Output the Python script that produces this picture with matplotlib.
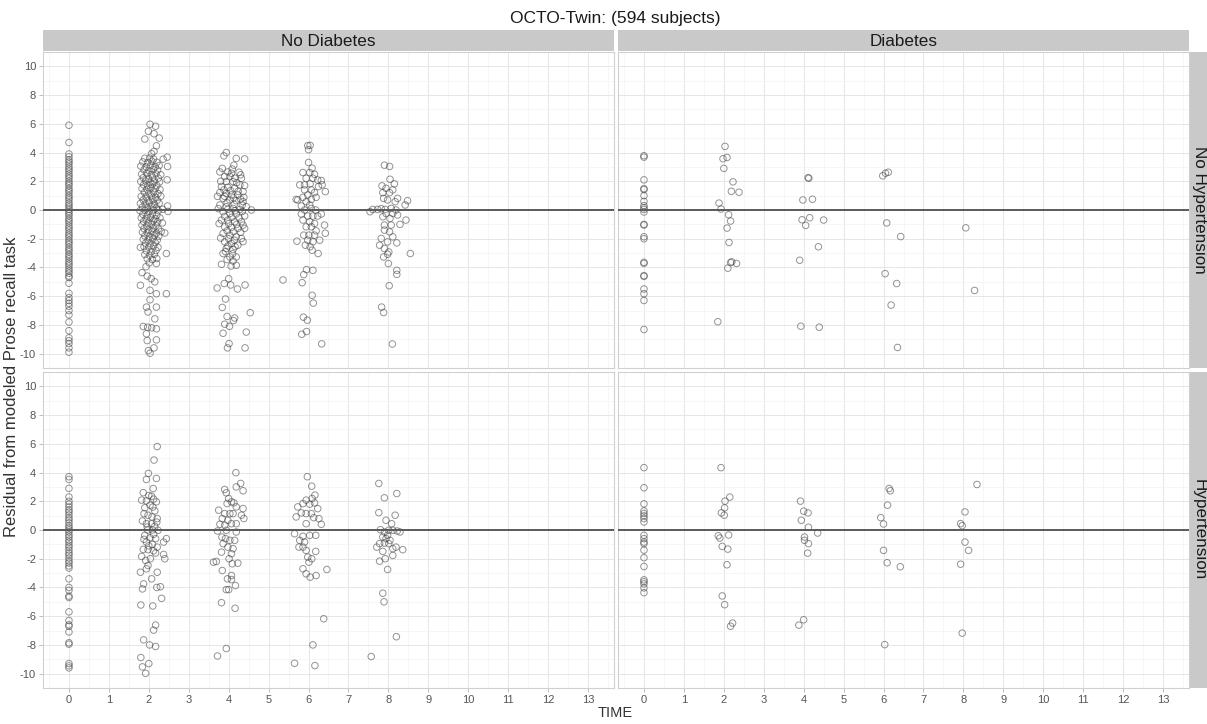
import matplotlib
matplotlib.use("Agg")
import matplotlib.pyplot as plt
import numpy as np

plt.rcParams['font.family'] = ['Liberation Sans', 'DejaVu Sans']
plt.rcParams['axes.unicode_minus'] = False

# ---- data: residuals at TIME 0 (no jitter) and jittered points at later times ----
col_labels = ["No Diabetes", "Diabetes"]
row_labels = ["No Hypertension", "Hypertension"]
time_ticks = list(range(0, 14))
resid_ticks = [-10, -8, -6, -4, -2, 0, 2, 4, 6, 8, 10]

# No Diabetes / No Hypertension
nd_nh_t0 = [5.9, 4.7, 3.9, 3.7, 3.5, 3.35, 3.2, 3.0, 2.85, 2.7, 2.5, 2.35, 2.2, 2.0, 1.85,
            1.7, 1.5, 1.35, 1.2, 1.0, 0.85, 0.7, 0.5, 0.35, 0.2, 0.05, -0.1, -0.25, -0.4,
            -0.6, -0.75, -0.9, -1.1, -1.25, -1.4, -1.6, -1.75, -1.9, -2.1, -2.25, -2.4,
            -2.6, -2.75, -2.9, -3.1, -3.25, -3.4, -3.6, -3.75, -3.9, -4.1, -4.25, -4.4,
            -4.6, -4.7, -5.1, -5.8, -6.1, -6.3, -6.5, -6.7, -7.0, -7.3, -7.8, -8.4, -8.9,
            -9.1, -9.3, -9.6, -9.9]
nd_nh_pts = [
    # time 2
    (2.03, 5.97), (2.17, 5.83), (1.99, 5.48), (2.13, 5.31), (2.26, 5.01), (1.90, 4.94),
    (2.19, 4.47), (2.13, 4.08), (2.07, 3.92), (2.46, 3.68), (2.36, 3.54), (2.47, 3.03),
    (2.46, 2.10), (2.47, 0.28), (2.48, -0.10), (2.40, -1.60), (2.44, -3.03), (1.79, -2.60),
    (1.90, 3.6), (2.02, 3.62), (2.12, 3.55), (1.85, 3.35), (1.97, 3.3), (2.08, 3.38),
    (2.20, 3.32), (1.80, 3.05), (1.93, 3.0), (2.04, 3.08), (2.16, 3.02), (2.26, 3.1),
    (1.88, 2.8), (2.0, 2.75), (2.11, 2.82), (2.22, 2.78), (1.82, 2.5), (1.95, 2.55),
    (2.06, 2.48), (2.18, 2.52), (2.30, 2.45), (1.86, 2.25), (1.99, 2.2), (2.1, 2.28),
    (2.24, 2.22), (1.80, 1.98), (1.92, 2.02), (2.03, 1.95), (2.14, 2.0), (2.27, 1.96),
    (1.87, 1.75), (1.98, 1.72), (2.09, 1.78), (2.20, 1.7), (1.83, 1.5), (1.95, 1.45),
    (2.05, 1.52), (2.16, 1.48), (2.28, 1.42), (1.89, 1.22), (2.0, 1.18), (2.12, 1.25),
    (2.23, 1.15), (1.81, 0.95), (1.93, 0.92), (2.06, 0.98), (2.17, 0.9), (2.3, 0.96),
    (1.86, 0.7), (1.98, 0.66), (2.1, 0.72), (2.21, 0.68), (1.79, 0.45), (1.91, 0.42),
    (2.02, 0.48), (2.14, 0.4), (2.26, 0.46), (1.84, 0.2), (1.96, 0.16), (2.08, 0.22),
    (2.19, 0.15), (1.78, -0.05), (1.9, -0.02), (2.01, -0.08), (2.12, 0.0), (2.24, -0.04),
    (2.35, 0.05), (1.85, -0.3), (1.97, -0.32), (2.09, -0.28), (2.2, -0.35), (1.81, -0.55),
    (1.93, -0.58), (2.04, -0.52), (2.16, -0.6), (2.28, -0.55), (1.87, -0.8), (1.99, -0.84),
    (2.11, -0.78), (2.22, -0.82), (2.34, -0.9), (1.83, -1.05), (1.95, -1.1), (2.06, -1.02),
    (2.18, -1.08), (1.88, -1.3), (2.0, -1.35), (2.12, -1.28), (2.24, -1.32), (1.84, -1.55),
    (1.96, -1.58), (2.08, -1.52), (2.19, -1.6), (2.31, -1.5), (1.9, -1.8), (2.02, -1.84),
    (2.14, -1.78), (2.25, -1.82), (1.86, -2.05), (1.98, -2.08), (2.1, -2.02), (2.21, -2.1),
    (1.92, -2.3), (2.04, -2.35), (2.16, -2.28), (1.88, -2.55), (2.0, -2.58), (2.12, -2.52),
    (2.23, -2.6), (1.94, -2.85), (2.06, -2.9), (2.18, -2.82), (1.9, -3.1), (2.02, -3.15),
    (2.14, -3.08), (1.96, -3.4), (2.09, -3.45), (2.2, -3.38), (2.19, -3.73), (2.01, -3.68),
    (1.93, -3.95), (1.83, -4.36), (1.96, -4.6), (2.06, -4.78), (1.79, -5.24), (2.15, -5.0),
    (2.03, -5.59), (2.19, -5.83), (2.44, -5.83), (2.03, -6.25), (1.94, -6.76), (2.19, -6.76),
    (1.98, -7.1), (2.15, -7.58), (1.86, -8.11), (1.97, -8.16), (2.07, -8.2), (2.19, -8.27),
    (1.94, -8.62), (2.19, -9.04), (1.96, -9.09), (2.13, -9.6), (1.99, -9.79), (2.03, -9.97),
    # time 4
    (3.94, 4.0), (3.88, 3.77), (4.19, 3.59), (4.4, 3.56), (4.13, 3.12), (3.78, 2.65),
    (3.98, 2.65), (4.07, 2.56), (4.26, 2.63), (3.9, 2.33), (4.03, 2.33), (4.15, 2.21),
    (4.32, 2.21), (3.94, 1.98), (4.11, 1.98), (4.28, 1.75), (3.82, 1.63), (3.98, 1.58),
    (4.15, 1.51), (4.36, 1.28), (3.78, 1.21), (3.94, 1.16), (4.07, 1.05), (4.23, 1.05),
    (4.38, 0.88), (3.86, 0.81), (4.03, 0.7), (4.19, 0.65), (4.36, 0.58), (3.78, 0.35),
    (3.94, 0.23), (4.11, 0.11), (4.28, 0.04), (4.44, 0.23), (4.57, 0.0), (3.86, -0.12),
    (4.03, -0.24), (4.19, -0.28), (4.4, -0.42), (3.82, -0.7), (3.98, -0.7), (4.15, -0.82),
    (4.32, -0.82), (3.9, -1.17), (4.07, -1.21), (4.23, -1.28), (4.4, -1.28), (3.86, -1.63),
    (4.03, -1.75), (4.19, -1.87), (4.32, -1.98), (3.9, -2.22), (4.07, -2.33), (4.23, -2.45),
    (3.94, -2.68), (4.11, -2.75), (3.86, -3.03), (4.03, -3.27), (4.19, -3.27), (4.11, -3.55),
    (3.82, -3.78), (4.19, -3.85), (3.84, 2.9), (4.09, 2.85), (4.3, 2.45), (3.8, 2.0),
    (4.2, 1.9), (4.4, 1.7), (3.88, 1.4), (4.05, 1.35), (4.24, 1.3), (3.72, 0.95),
    (3.9, 0.95), (4.12, 0.85), (4.3, 0.75), (3.96, 0.5), (4.14, 0.4), (4.34, 0.35),
    (3.74, 0.1), (3.98, 0.05), (4.16, -0.05), (4.34, -0.1), (3.9, -0.45), (4.08, -0.5),
    (4.26, -0.55), (3.76, -0.95), (4.0, -0.95), (4.2, -1.0), (4.36, -1.05), (3.96, -1.45),
    (4.12, -1.5), (4.3, -1.55), (3.8, -1.95), (4.0, -2.0), (4.14, -2.1), (4.36, -2.2),
    (3.98, -2.5), (4.16, -2.55), (3.92, -2.9), (4.1, -3.05), (3.96, -3.45), (4.06, -3.9),
    (4.0, -4.78), (3.89, -5.12), (3.71, -5.43), (4.05, -5.22), (4.22, -5.5), (4.41, -5.22),
    (3.92, -6.2), (3.84, -6.78), (4.54, -7.15), (3.96, -7.41), (4.15, -7.52), (4.12, -7.7),
    (3.9, -7.95), (4.02, -8.1), (3.86, -8.58), (4.44, -8.5), (4.01, -9.3), (3.97, -9.6),
    (4.41, -9.6),
    # time 6
    (5.98, 4.48), (6.04, 4.5), (6.0, 4.2), (6.0, 3.31), (6.09, 2.91), (5.86, 2.61),
    (6.03, 2.61), (6.15, 2.49), (6.11, 2.21), (5.94, 2.21), (5.78, 1.75), (5.9, 1.75),
    (6.04, 1.82), (6.23, 2.09), (6.32, 2.05), (6.34, 1.75), (6.25, 1.63), (6.42, 1.28),
    (5.9, 1.4), (6.07, 1.4), (6.15, 1.21), (5.98, 1.05), (5.86, 0.88), (5.69, 0.74),
    (5.73, 0.7), (6.07, 0.74), (6.19, 0.88), (5.94, 0.58), (5.82, 0.28), (6.03, 0.35),
    (5.9, 0.0), (6.07, 0.11), (6.18, 0.0), (6.32, -0.28), (5.82, -0.28), (5.98, -0.42),
    (6.11, -0.42), (6.23, -0.42), (5.86, -0.7), (6.03, -0.82), (6.15, -0.94), (5.94, -1.17),
    (6.07, -1.17), (6.19, -1.45), (5.88, -1.75), (6.01, -1.75), (6.15, -1.75), (6.4, -1.05),
    (5.98, -2.1), (6.11, -2.21), (6.28, -2.1), (6.04, -2.56), (5.92, -2.45), (6.09, -2.8),
    (5.36, -4.87), (6.42, -1.62), (6.24, -3.03), (5.71, -2.17), (5.95, -4.15), (6.11, -4.2),
    (5.88, -4.5), (5.84, -5.06), (6.09, -5.94), (6.12, -6.48), (5.87, -7.46), (5.97, -7.67),
    (5.95, -8.46), (5.83, -8.65), (6.33, -9.32),
    # time 8
    (7.9, 3.12), (8.03, 3.03), (8.04, 2.14), (8.15, 1.82), (7.84, 1.68), (7.94, 1.51),
    (8.11, 1.4), (7.86, 1.21), (8.03, 1.21), (8.23, 0.81), (8.48, 0.65), (7.88, 0.81),
    (7.98, 0.7), (8.17, 0.58), (8.42, 0.35), (7.61, 0.04), (7.73, 0.04), (7.82, 0.09),
    (7.92, 0.04), (8.07, 0.11), (8.19, 0.0), (7.54, -0.12), (7.94, -0.24), (8.11, -0.24),
    (8.23, -0.35), (7.86, -0.47), (8.04, -0.59), (8.44, -0.7), (7.9, -1.05), (8.07, -1.05),
    (8.29, -1.0), (7.9, -1.4), (8.03, -1.52), (8.11, -1.87), (7.82, -1.98), (7.98, -2.22),
    (8.21, -2.29), (7.78, -2.45), (7.9, -2.68), (8.01, -2.92), (7.88, -3.27), (7.98, -3.08),
    (8.55, -3.03), (8.0, -3.73), (8.21, -4.2), (8.21, -4.48), (8.02, -5.27), (7.83, -6.76),
    (7.88, -7.14), (8.1, -9.33),
]

# Diabetes / No Hypertension
d_nh_t0 = [3.78, 3.68, 2.1, 1.49, 1.42, 1.0, 0.6, 0.3, 0.16, 0.04, -0.14, -1.0, -1.05,
           -1.86, -2.0, -3.64, -3.72, -4.57, -4.62, -5.5, -5.83, -6.3, -8.32]
d_nh_pts = [
    (2.03, 4.43), (2.08, 3.66), (1.98, 3.57), (2.0, 2.9), (2.23, 1.96), (2.19, 1.3),
    (2.38, 1.24), (1.88, 0.48), (1.93, 0.07), (2.12, -0.33), (2.17, -0.77), (2.08, -1.26),
    (2.13, -2.26), (2.2, -3.61), (2.17, -3.66), (2.32, -3.72), (2.1, -4.05), (1.85, -7.78),
    (4.13, 2.21), (4.11, 2.25), (3.98, 0.7), (4.22, 0.75), (3.96, -0.68), (4.15, -0.54),
    (4.05, -1.07), (4.5, -0.7), (4.37, -2.56), (3.9, -3.5), (3.93, -8.09), (4.39, -8.16),
    (5.98, 2.38), (6.05, 2.56), (6.12, 2.63), (6.08, -0.9), (6.43, -1.85), (6.04, -4.43),
    (6.33, -5.12), (6.19, -6.62), (6.35, -9.57),
    (8.06, -1.24), (8.28, -5.6),
]

# No Diabetes / Hypertension
nd_h_t0 = [3.71, 3.52, 2.9, 2.3, 2.0, 1.8, 1.6, 1.4, 1.25, 1.05, 0.85, 0.7, 0.5, 0.3, 0.15,
           0.0, -0.15, -0.35, -0.5, -0.7, -0.85, -1.05, -1.2, -1.4, -1.6, -1.75, -1.95,
           -2.15, -2.3, -2.5, -2.65, -3.4, -4.0, -4.2, -4.6, -4.7, -5.7, -6.3, -6.6, -6.7,
           -7.1, -7.85, -7.95, -9.3, -9.46, -9.6]
nd_h_pts = [
    # time 2
    (2.21, 5.81), (2.13, 4.87), (1.99, 3.94), (2.19, 3.59), (1.94, 3.52), (2.11, 2.89),
    (1.86, 2.6), (2.0, 2.4), (2.07, 2.35), (1.82, 2.08), (1.94, 2.03), (2.19, 1.96),
    (2.03, 1.73), (2.15, 1.33), (1.88, 1.14), (1.98, 1.03), (2.08, 0.91), (2.21, 0.8),
    (1.84, 0.63), (1.94, 0.44), (2.07, 0.44), (2.15, 0.26), (1.97, 0.0), (2.09, 0.0),
    (2.23, -0.02), (1.9, -0.37), (2.03, -0.54), (2.17, -0.6), (2.44, -0.6), (2.37, -0.84),
    (1.94, -0.84), (2.09, -1.0), (2.21, -1.19), (1.86, -1.35), (1.98, -1.37), (2.17, -1.6),
    (2.37, -1.7), (2.4, -2.0), (1.82, -1.84), (1.92, -2.12), (2.04, -2.0), (1.98, -2.47),
    (1.79, -2.94), (1.94, -2.7), (2.21, -2.94), (2.12, 2.15), (1.9, 1.55), (2.1, 1.6),
    (2.2, 0.55), (1.96, 0.2), (2.12, -0.3), (1.88, -0.65), (2.0, -1.1), (2.12, -1.45),
    (2.07, -3.4), (1.87, -3.75), (1.84, -4.1), (2.2, -4.0), (2.29, -3.95), (2.32, -4.76),
    (1.8, -5.22), (2.1, -5.29), (2.17, -6.62), (2.12, -6.97), (1.87, -7.65), (2.02, -8.0),
    (2.17, -8.11), (1.8, -8.88), (1.84, -9.53), (2.0, -9.3), (1.92, -9.98),
    # time 4
    (4.18, 3.99), (4.3, 3.24), (4.19, 3.0), (4.36, 2.73), (3.9, 2.82), (3.94, 2.59),
    (4.0, 2.19), (4.07, 1.96), (4.13, 1.89), (3.96, 1.84), (4.19, 1.61), (4.36, 1.49),
    (3.75, 1.38), (3.9, 1.14), (4.03, 1.14), (4.11, 1.14), (4.32, 1.03), (4.38, 0.8),
    (3.84, 0.8), (3.98, 0.68), (4.07, 0.44), (4.19, 0.44), (3.78, 0.4), (3.9, 0.33),
    (3.72, -0.07), (3.94, -0.02), (4.19, -0.14), (3.83, -0.49), (3.92, -0.6), (4.03, -0.72),
    (4.15, -0.72), (3.86, -0.95), (3.98, -1.19), (4.11, -1.3), (3.82, -1.54), (4.07, -1.65),
    (3.69, -2.19), (3.62, -2.24), (4.01, -2.0), (4.23, -2.31), (4.09, -2.35), (3.84, -2.82),
    (4.07, -3.17), (3.97, -3.4), (4.07, -3.45), (4.17, -3.87), (3.94, -4.15), (4.0, -4.15),
    (3.82, -5.06), (4.16, -5.45), (3.72, -8.77), (3.94, -8.25),
    # time 6
    (5.97, 3.71), (6.08, 3.05), (6.16, 2.43), (6.09, 2.19), (5.94, 2.08), (5.86, 1.84),
    (5.73, 1.61), (6.03, 1.8), (6.15, 1.89), (6.23, 1.49), (5.69, 0.91), (5.82, 1.19),
    (5.94, 1.14), (6.07, 1.14), (6.13, 0.86), (6.26, 0.79), (6.32, 0.4), (5.94, 0.44),
    (5.65, -0.26), (5.86, -0.44), (6.03, -0.37), (6.18, -0.37), (5.78, -0.72), (5.9, -0.84),
    (5.86, -1.19), (5.76, -1.19), (5.94, -1.42), (6.18, -1.49), (5.98, -1.89), (6.08, -2.0),
    (6.01, -2.24), (5.86, -2.7), (5.94, -3.05), (6.04, -3.28), (6.19, -3.17), (6.46, -2.75),
    (6.38, -6.18), (6.11, -8.0), (5.65, -9.28), (6.16, -9.44),
    # time 8
    (7.76, 3.24), (8.21, 2.54), (7.9, 2.24), (7.76, 1.21), (8.17, 1.03), (7.94, 0.68),
    (8.08, 0.44), (7.8, 0.02), (7.9, -0.14), (8.01, -0.02), (8.11, -0.02), (8.22, -0.07),
    (8.29, -0.14), (7.98, -0.37), (7.86, -0.49), (7.94, -0.6), (8.04, -0.72), (7.78, -0.95),
    (7.9, -0.91), (8.01, -0.95), (8.19, -1.19), (8.11, -1.3), (7.71, -1.19), (7.86, -1.49),
    (8.36, -1.37), (8.11, -1.77), (7.92, -2.0), (7.78, -2.17), (7.98, -2.75),
    (7.86, -4.4), (7.89, -5.0), (8.2, -7.43), (7.57, -8.81),
]

# Diabetes / Hypertension
d_h_t0 = [4.34, 2.94, 1.82, 1.33, 1.15, 0.98, 0.8, 0.56, -0.37, -0.6, -0.84, -0.95, -1.4,
          -1.93, -2.54, -3.47, -3.6, -3.75, -4.03, -4.36]
d_h_pts = [
    (1.93, 4.34), (2.15, 2.29), (2.03, 2.01), (2.02, 1.54), (1.94, 1.19), (2.01, 1.03),
    (1.86, -0.4), (1.9, -0.56), (2.12, -0.35), (1.96, -1.14), (2.1, -1.33), (2.08, -2.42),
    (1.96, -4.59), (2.02, -5.2), (2.22, -6.48), (2.17, -6.7),
    (3.92, 2.01), (4.0, 1.31), (4.11, 1.19), (3.94, 0.68), (4.12, 0.19), (4.35, -0.21),
    (4.02, -0.49), (4.02, -0.72), (4.12, -0.95), (4.1, -1.61), (4.0, -6.25), (3.88, -6.62),
    (6.14, 2.89), (6.17, 2.73), (6.1, 1.73), (5.93, 0.86), (6.0, 0.42), (6.0, -1.42),
    (6.09, -2.28), (6.42, -2.56), (6.03, -7.98),
    (8.34, 3.17), (8.04, 1.26), (7.93, 0.44), (7.97, 0.3), (8.04, -0.84), (8.13, -1.42),
    (7.93, -2.38), (7.97, -7.18),
]

panel_data = [[(nd_nh_t0, nd_nh_pts), (d_nh_t0, d_nh_pts)],
              [(nd_h_t0, nd_h_pts), (d_h_t0, d_h_pts)]]

# ---- layout (pixels) ----
W, H = 1207, 724
fig = plt.figure(figsize=(W / 100, H / 100), dpi=100)


def rect(left, top, w, h):
    return [left / W, 1 - (top + h) / H, w / W, h / H]


col_left = [43, 618]
col_w = 571
row_top = [52, 372]
row_h = 316
strip_grey = '#C9C9C9'

for r in range(2):
    for c in range(2):
        ax = fig.add_axes(rect(col_left[c], row_top[r], col_w, row_h))
        t0, pts = panel_data[r][c]
        xs = [0.0] * len(t0) + [p[0] for p in pts]
        ys = list(t0) + [p[1] for p in pts]
        ax.scatter(xs, ys, s=22, facecolors='none', edgecolors='#3a3a3a',
                   linewidths=0.7, alpha=0.55, zorder=2)
        ax.axhline(0, color='#5a5a5a', lw=1.4, zorder=3)
        ax.set_xlim(-0.65, 13.65)
        ax.set_ylim(-11, 11)
        ax.set_xticks(time_ticks)
        ax.set_xticks(np.arange(-0.5, 14, 1.0), minor=True)
        ax.set_yticks(resid_ticks)
        ax.set_yticks(np.arange(-11, 12, 2), minor=True)
        ax.grid(True, which='major', color='#E6E6E6', lw=0.7, zorder=0)
        ax.grid(True, which='minor', color='#F3F3F3', lw=0.5, zorder=0)
        ax.set_axisbelow(True)
        for sp in ax.spines.values():
            sp.set_color('#D0D0D0')
            sp.set_linewidth(0.8)
        ax.tick_params(which='minor', length=0)
        ax.tick_params(which='major', length=3, color='#B3B3B3', width=0.6,
                       labelsize=8, labelcolor='#555555', pad=2)
        if c != 0:
            ax.tick_params(axis='y', labelleft=False, length=0)
        if r != 1:
            ax.tick_params(axis='x', labelbottom=False, length=0)

# strips
for c in range(2):
    sax = fig.add_axes(rect(col_left[c], 30, col_w, 21))
    sax.set_facecolor(strip_grey)
    sax.set_xticks([]); sax.set_yticks([])
    for sp in sax.spines.values():
        sp.set_visible(False)
    sax.text(0.5, 0.45, col_labels[c], ha='center', va='center', fontsize=12.3,
             color='#1A1A1A', transform=sax.transAxes)

for r in range(2):
    sax = fig.add_axes(rect(1190, row_top[r], 17, row_h))
    sax.set_facecolor(strip_grey)
    sax.set_xticks([]); sax.set_yticks([])
    for sp in sax.spines.values():
        sp.set_visible(False)
    sax.text(0.55, 0.5, row_labels[r], ha='center', va='center', fontsize=12.3,
             rotation=-90, color='#1A1A1A', transform=sax.transAxes)

fig.text(615 / W, 1 - 18 / H, "OCTO-Twin: (594 subjects)", ha='center', va='center',
         fontsize=12.5, color='#1A1A1A')
fig.text(615 / W, 1 - 713 / H, "TIME", ha='center', va='center', fontsize=10.5,
         color='#333333')
fig.text(12 / W, 1 - 387 / H, "Residual from modeled Prose recall task", ha='center',
         va='center', rotation=90, fontsize=12, color='#333333')

fig.savefig("out.png", dpi=100)
